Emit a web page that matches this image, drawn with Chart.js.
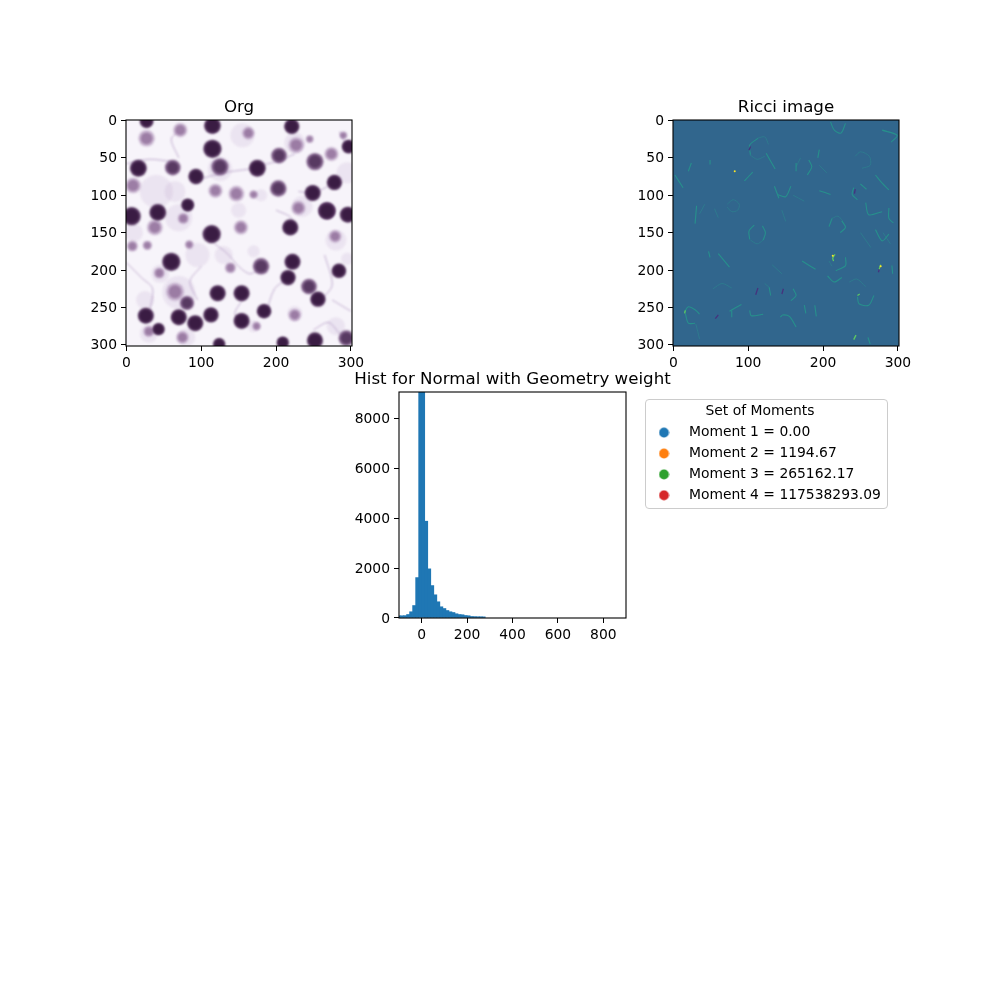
<!DOCTYPE html>
<html>
<head>
<meta charset="utf-8">
<title>Ricci</title>
<script src="https://cdn.jsdelivr.net/npm/chart.js@4"></script>
<style>
  html, body { margin: 0; padding: 0; background: #fff; }
  body { position: relative; width: 1000px; height: 1000px; overflow: hidden; }
  canvas { position: absolute; }
  #legendFrame { position: absolute; left: 645px; top: 399px; width: 241px; height: 108px; border: 1px solid #ccc; border-radius: 4px; }
</style>
</head>
<body>
<canvas id="orgChart" width="338" height="285" style="left:70px;top:90px"></canvas>
<canvas id="ricciChart" width="338" height="285" style="left:617px;top:90px"></canvas>
<canvas id="histChart" width="339" height="285" style="left:343px;top:362px"></canvas>
<div id="legendFrame"></div>
<canvas id="legendChart" width="254" height="110" style="left:639px;top:399px"></canvas>
<script>
// image axes, in image pixels
imageXTicks = [0, 100, 200, 300];
imageYTicks = [0, 50, 100, 150, 200, 250, 300];

// Org image: [x, y, size]
darkCells = [[27,1,9],[115,7,11],[221,8,10],[115,38,12],[297,35,9],[16,64,11],[175,64,11],[93,75,10],[278,83,10],
  [249,97,10.5],[82,113,8.5],[42,123,11],[7,128,12],[268,121,11],[296,126,10.5],[219,143,10.5],[114,152,12],
  [60,189,12],[222,189,10.5],[284,201,9.5],[216,210,10],[122,231,10.5],[154,231,10.5],[256,239,10],[26,261,10.5],
  [70,263,10.5],[113,260,10],[92,271,10.5],[154,268,10.5],[184,255,9.5],[43,279,8],[252,294,10.5],[124,299,8],[209,297,8]];
midCells = [[204,47,10],[252,55,11],[203,91,10.5],[180,195,10.5],[244,222,10],[81,244,9],[294,291,10],[125,62,11],[62,63,10],[268,121,11]];
paleCells = [[27,24,10.5],[72,13,9],[163,17,8],[227,33,10],[245,25,5],[274,45,9],[9,87,10],[119,94,9],[147,98,10],
  [170,99,5.5],[230,117,9],[38,143,10],[153,143,9],[279,155,8],[8,168,7],[28,167,6],[84,166,5.5],[139,197,7],
  [44,204,7],[65,229,11.5],[225,260,8],[30,282,7],[75,290,8],[174,275,5.5],[76,131,7],[290,20,5]];
hazeCells = [[40,95,22],[70,130,18],[65,95,14],[10,150,12],[95,180,16],[130,180,12],[155,20,16],[125,65,16],[225,30,14],
  [295,70,14],[235,115,14],[280,160,14],[45,205,12],[70,230,22],[25,240,12],[225,258,10],[280,275,12],[170,275,8],
  [295,185,8],[150,120,10],[180,100,8],[80,290,12],[30,285,12],[170,175,8]];
membranes = [
  [[0,58],[30,52],[60,55]], [[100,78],[130,70],[165,65]], [[180,60],[200,55],[225,45]],
  [[118,165],[135,178],[150,195],[165,205],[178,198]], [[285,15],[295,35]], [[230,95],[250,97],[275,85]],
  [[200,120],[220,130],[218,142]], [[265,180],[275,220],[260,240]], [[100,195],[85,215],[95,240]],
  [[186,260],[198,225],[215,212]], [[155,240],[145,258],[155,268]], [[0,190],[20,210],[35,225],[30,260]],
  [[275,240],[300,255]], [[70,50],[60,25],[72,13]], [[285,285],[270,270],[250,280]]
];

// Ricci image: traces
tealArcs = [
  [[113,24],[102,33],[103,46]], [[124,44],[136,65]], [[181,53],[185,62],[179,73]], [[164,57],[164,68]],
  [[95,81],[106,69]], [[2,73],[13,90]], [[241,90],[239,99],[246,106]], [[250,85],[258,92]],
  [[108,140],[101,148],[102,159]], [[119,141],[123,150],[120,160]], [[208,142],[212,131]], [[225,134],[230,143],[223,150]],
  [[230,183],[230,194],[217,201]], [[292,194],[293,205]], [[128,223],[130,234]], [[160,225],[164,234],[157,241]],
  [[246,236],[248,245],[261,247],[268,234]], [[15,256],[20,249],[29,253],[35,259]], [[16,258],[20,271],[29,271]],
  [[78,254],[78,263]], [[102,254],[104,261],[120,259]], [[143,263],[146,260],[155,262],[164,276]],
  [[175,247],[177,258]], [[189,247],[191,262]], [[260,290],[263,299]], [[210,2],[215,13],[224,17],[230,4]],
  [[291,29],[299,20],[279,13]], [[49,183],[47,175]], [[60,178],[75,196]], [[206,208],[215,216],[225,210]],
  [[139,99],[150,102],[157,88]], [[135,88],[141,104]], [[210,99],[195,94]], [[257,110],[261,126],[279,122]],
  [[288,117],[288,131],[294,137]], [[31,114],[29,138]], [[172,188],[190,199]], [[270,73],[279,84],[288,93]],
  [[270,146],[279,161],[288,152]], [[195,39],[193,50]], [[49,53],[49,59]], [[24,57],[20,68]], [[75,255],[91,246]]
];
paleArcs = [
  [[72,112],[80,106],[88,112],[86,120],[78,122],[72,116]], [[243,48],[250,42],[262,48],[263,60],[252,64]],
  [[235,216],[245,212],[257,222]], [[53,225],[65,218],[78,224]], [[30,272],[35,292]], [[250,150],[264,170]],
  [[280,150],[290,165]], [[145,120],[150,135]], [[195,60],[205,70]], [[160,100],[175,108]], [[132,193],[145,205]],
  [[112,24],[122,22],[127,32]], [[102,46],[112,52],[122,48]], [[103,160],[112,165],[120,160]], [[212,131],[220,128],[226,134]],
  [[212,195],[208,188]], [[128,223],[122,218]], [[164,62],[170,50]], [[42,112],[35,125]], [[55,118],[60,130]]
];
darkArcs = [[[110,233],[113,224]], [[145,232],[147,225]], [[56,265],[60,260]], [[274,203],[276,196]], [[243,92],[242,98]], [[103,35],[101,40]]];
brightArcs = [[[214,188],[213,184],[216,179]], [[275,199],[277,193]], [[246,234],[249,232]], [[15,258],[16,254]], [[241,293],[244,287]]];
hotSpots = [[213,181],[82,68],[277,195]];

// histogram: bin centres and counts
histBins = [-100,-86.67,-73.33,-60,-46.67,-33.33,-20,-6.67,6.67,20,33.33,46.67,60,73.33,86.67,100,113.33,126.67,140,153.33,
  166.67,180,193.33,206.67,220,233.33,246.67,260,273.33];
histCounts = [90,90,95,140,250,500,1620,41000,38000,3880,1970,1300,930,650,450,380,300,250,220,170,
  140,130,100,90,60,55,50,50,45];
histXTicks = [0, 200, 400, 600, 800];
histYTicks = [0, 2000, 4000, 6000, 8000];

legendTitle = "Set of Moments";
momentNames = ["Moment 1", "Moment 2", "Moment 3", "Moment 4"];
momentValues = ["0.00", "1194.67", "265162.17", "117538293.09"];
momentColors = ["#1f77b4", "#ff7f0e", "#2ca02c", "#d62728"];

var IMAGE_SCALE = 226 / 302;
var FONT = "'DejaVu Sans'";

Chart.defaults.animation = false;
Chart.defaults.responsive = false;
Chart.defaults.font.family = FONT;
Chart.defaults.color = "#000";

function framePlugin(bg, blur) {
    return {
        id: "frame",
        beforeDatasetsDraw: function(chart) {
            var a = chart.chartArea;
            var ctx = chart.ctx;
            ctx.fillStyle = bg;
            ctx.fillRect(a.left, a.top, a.right - a.left, a.bottom - a.top);
            if (blur) ctx.filter = "blur(" + blur + "px)";
        },
        afterDatasetsDraw: function(chart) {
            chart.ctx.filter = "none";
        },
        afterDraw: function(chart) {
            var a = chart.chartArea;
            chart.ctx.save();
            chart.ctx.strokeStyle = "#000";
            chart.ctx.lineWidth = 1.1;
            chart.ctx.strokeRect(a.left, a.top, a.right - a.left, a.bottom - a.top);
            chart.ctx.restore();
        }
    };
}

function axis(min, max, ticks, size, isX, reverse) {
    return {
        type: "linear",
        offset: false,
        min: min,
        max: max,
        reverse: !!reverse,
        border: { display: false },
        grid: { drawOnChartArea: false, drawTicks: true, tickLength: 5, tickColor: "#000", tickWidth: 1, offset: false },
        ticks: {
            autoSkip: false,
            maxRotation: 0,
            includeBounds: false,
            padding: 4,
            labelOffset: isX ? 0 : 1,
            font: { size: 13.89 },
            color: "#000",
            callback: function(v) { return String(v); }
        },
        afterBuildTicks: function(scale) {
            scale.ticks = ticks.map(function(v) { return { value: v }; });
        },
        afterFit: function(scale) {
            if (isX) scale.height = size; else scale.width = size;
        }
    };
}

function baseOptions(title, xAxis, yAxis) {
    return {
        layout: { padding: 0 },
        scales: {
            x: xAxis,
            y: yAxis,
            // empty axis on the right, keeps the title centred over the plot
            spacer: {
                type: "linear",
                position: "right",
                border: { display: false },
                grid: { display: false },
                ticks: { display: false },
                afterFit: function(scale) { scale.width = 56; }
            }
        },
        plugins: {
            legend: { display: false },
            tooltip: { enabled: false },
            title: {
                display: true,
                text: title,
                color: "#000",
                font: { size: 16.67, weight: "normal" },
                padding: { top: 8, bottom: 2 }
            }
        }
    };
}

function cells(list, factor, color, order) {
    return {
        data: list.map(function(c) { return { x: c[0], y: c[1], r: c[2] * IMAGE_SCALE * factor }; }),
        backgroundColor: color,
        borderWidth: 0,
        clip: 0,
        order: order
    };
}

function traces(list, color, width, order) {
    return list.map(function(pts) {
        return {
            type: "scatter",
            showLine: true,
            data: pts.map(function(p) { return { x: p[0], y: p[1] }; }),
            borderColor: color,
            borderWidth: width,
            pointRadius: 0,
            tension: 0.3,
            clip: 0,
            order: order
        };
    });
}

new Chart(document.getElementById("orgChart"), {
    type: "bubble",
    data: {
        datasets: [
            cells(hazeCells, 1, "rgba(190,165,205,0.2)", 9),
            cells(paleCells, 1.05, "rgba(175,145,185,0.6)", 7),
            cells(paleCells, 0.75, "rgba(140,105,150,0.75)", 6),
            cells(midCells, 1.05, "rgba(120,85,130,0.85)", 5),
            cells(midCells, 0.78, "#583a62", 4),
            cells(darkCells, 1.02, "rgba(80,45,90,0.9)", 3),
            cells(darkCells, 0.82, "#3a1c43", 2)
        ].concat(traces(membranes, "rgba(165,135,185,0.65)", 1, 8))
    },
    options: baseOptions("Org", axis(-0.5, 301.5, imageXTicks, 29, true), axis(-0.5, 301.5, imageYTicks, 56, false, true)),
    plugins: [framePlugin("#f7f4fa", 0.8)]
});

new Chart(document.getElementById("ricciChart"), {
    type: "scatter",
    data: {
        datasets: traces(paleArcs, "#2e7a8e", 1, 9)
            .concat(traces(tealArcs, "#27908c", 1.1, 8))
            .concat(traces(darkArcs, "#46327e", 1.3, 7))
            .concat(traces(brightArcs, "#5ec962", 1.3, 6))
            .concat([{
                data: hotSpots.map(function(p) { return { x: p[0], y: p[1] }; }),
                backgroundColor: "#fde725",
                pointRadius: 1,
                borderWidth: 0,
                clip: 0,
                order: 1
            }])
    },
    options: baseOptions("Ricci image", axis(-0.5, 301.5, imageXTicks, 29, true), axis(-0.5, 301.5, imageYTicks, 56, false, true)),
    plugins: [framePlugin("#31668d", 0.35)]
});

new Chart(document.getElementById("histChart"), {
    type: "bar",
    data: {
        datasets: [{
            data: histBins.map(function(b, i) { return { x: b, y: histCounts[i] }; }),
            backgroundColor: "#1f77b4",
            borderWidth: 0,
            barPercentage: 1,
            categoryPercentage: 1
        }]
    },
    options: baseOptions("Hist for Normal with Geometry weight", axis(-100, 900, histXTicks, 29, true), axis(0, 9060, histYTicks, 56, false)),
    plugins: [framePlugin("#fff")]
});

function dot(color) {
    var c = document.createElement("canvas");
    c.width = 11;
    c.height = 11;
    var g = c.getContext("2d");
    g.fillStyle = color;
    g.beginPath();
    g.arc(5.5, 5.5, 4.9, 0, Math.PI * 2);
    g.fill();
    return c;
}

new Chart(document.getElementById("legendChart"), {
    type: "scatter",
    data: {
        datasets: momentNames.map(function(n, i) {
            return { label: n + " = " + momentValues[i], data: [], backgroundColor: momentColors[i] };
        })
    },
    options: {
        scales: { x: { display: false }, y: { display: false } },
        plugins: {
            tooltip: { enabled: false },
            legend: {
                display: true,
                position: "top",
                align: "start",
                maxHeight: 110,
                title: {
                    display: true,
                    text: legendTitle,
                    color: "#000",
                    font: { size: 13.89 },
                    padding: { top: 5, bottom: -2 }
                },
                labels: {
                    usePointStyle: true,
                    pointStyleWidth: 36,
                    padding: 7,
                    color: "#000",
                    font: { size: 13.89 },
                    generateLabels: function(chart) {
                        return chart.data.datasets.map(function(d, i) {
                            return { text: d.label, pointStyle: dot(momentColors[i]), datasetIndex: i, lineWidth: 0, fontColor: "#000" };
                        });
                    }
                }
            }
        }
    }
});
</script>
</body>
</html>
